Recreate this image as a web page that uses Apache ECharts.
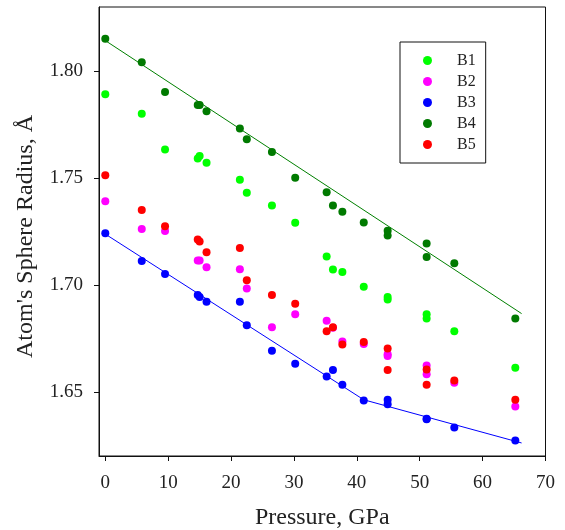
<!DOCTYPE html>
<html>
<head>
<meta charset="utf-8">
<script src="https://cdn.jsdelivr.net/npm/echarts@6/dist/echarts.min.js"></script>
<style>html,body{margin:0;padding:0;background:#fff;}#c{width:565px;height:530px;}</style>
</head>
<body>
<div id="c"></div>
<script>
const pressure = [0, 5.8, 9.5, 14.7, 15.0, 16.1, 21.4, 22.5, 26.5, 30.2, 35.2, 36.2, 37.7, 41.1, 44.9, 44.9, 51.1, 51.1, 55.5, 65.2];
const b1 = [1.7892, 1.7801, 1.7633, 1.7592, 1.7603, 1.7572, 1.7492, 1.7431, 1.7372, 1.7291, 1.7133, 1.7072, 1.7061, 1.6992, 1.6944, 1.6932, 1.6863, 1.6843, 1.6783, 1.6613];
const b2 = [1.7392, 1.7262, 1.7252, 1.7114, 1.7114, 1.7083, 1.7074, 1.6983, 1.6802, 1.6863, 1.6833, 1.6800, 1.6736, 1.6724, 1.6676, 1.6668, 1.6623, 1.6582, 1.6543, 1.6432];
const b3 = [1.7242, 1.7112, 1.7051, 1.6953, 1.6944, 1.6922, 1.6922, 1.6811, 1.6692, 1.6632, 1.6572, 1.6602, 1.6533, 1.6460, 1.6463, 1.6442, 1.6374, 1.6372, 1.6333, 1.6272];
const b4 = [1.8151, 1.8042, 1.7902, 1.7842, 1.7842, 1.7813, 1.7732, 1.7681, 1.7622, 1.7501, 1.7433, 1.7372, 1.7342, 1.7292, 1.7253, 1.7231, 1.7194, 1.7131, 1.7102, 1.6843];
const b5 = [1.7513, 1.7351, 1.7274, 1.7213, 1.7203, 1.7153, 1.7173, 1.7022, 1.6953, 1.6912, 1.6783, 1.6802, 1.6722, 1.6733, 1.6703, 1.6602, 1.6605, 1.6533, 1.6553, 1.6463];
const fitB4X = [0, 66.2];
const fitB4Y = [1.8143, 1.6866];
const fitB3X = [0, 41.1, 66.2];
const fitB3Y = [1.7238, 1.6463, 1.6261];
const xTicks = [0, 10, 20, 30, 40, 50, 60, 70];
const yTicks = [1.65, 1.70, 1.75, 1.80];
const names = ['B1', 'B2', 'B3', 'B4', 'B5'];
const colors = ['#00ff00', '#ff00ff', '#0000ff', '#007a00', '#ff0000'];

const font = 'Liberation Serif';
const zip = (xs, ys) => xs.map((x, i) => [x, ys[i]]);
const vals = [b1, b2, b3, b4, b5];

const series = [
  {type: 'line', data: zip(fitB4X, fitB4Y), symbol: 'none', lineStyle: {color: '#008000', width: 1}, silent: true, z: 1},
  {type: 'line', data: zip(fitB3X, fitB3Y), symbol: 'none', lineStyle: {color: '#0000ff', width: 1}, silent: true, z: 1}
];
names.forEach((n, i) => {
  series.push({name: n, type: 'scatter', data: zip(pressure, vals[i]), symbol: 'circle', symbolSize: 8,
    itemStyle: {color: colors[i], opacity: 1}, z: 2 + i});
});

const chart = echarts.init(document.getElementById('c'));
chart.setOption({
  animation: false,
  backgroundColor: '#fff',
  grid: {left: 99, top: 7, right: 19.5, bottom: 74, outerBoundsMode: 'none', containLabel: false,
    show: true, borderColor: '#111', borderWidth: 1, backgroundColor: 'transparent'},
  legend: {
    data: names, orient: 'vertical', left: 400, top: 42,
    icon: 'circle', itemWidth: 9, itemHeight: 9, itemGap: 4,
    padding: [10, 10, 10, 23],
    borderColor: '#111', borderWidth: 1,
    itemStyle: {opacity: 1},
    textStyle: {fontFamily: font, fontSize: 16, color: '#222', lineHeight: 17, padding: [0, 0, 0, 20]}
  },
  xAxis: {
    type: 'value', min: -1, max: 70,
    name: 'Pressure, GPa', nameLocation: 'middle', nameGap: 50,
    nameTextStyle: {fontFamily: font, fontSize: 24, color: '#222'},
    axisLine: {onZero: false, lineStyle: {color: '#111', width: 1}},
    axisTick: {show: true, inside: false, length: 5, customValues: xTicks, lineStyle: {color: '#111'}},
    axisLabel: {customValues: xTicks, fontFamily: font, fontSize: 19, color: '#222', margin: 18},
    splitLine: {show: false}
  },
  yAxis: {
    type: 'value', min: 1.62, max: 1.83,
    name: "Atom's Sphere Radius, Å", nameLocation: 'middle', nameGap: 61,
    nameTextStyle: {fontFamily: font, fontSize: 24, color: '#222', padding: [0, 10, 0, 0]},
    axisLine: {show: true, onZero: false, lineStyle: {color: '#111', width: 1}},
    axisTick: {show: true, inside: false, length: 5, customValues: yTicks, lineStyle: {color: '#111'}},
    axisLabel: {customValues: yTicks, fontFamily: font, fontSize: 19, color: '#222', margin: 16,
      formatter: v => v.toFixed(2)},
    splitLine: {show: false}
  },
  series: series
});
</script>
</body>
</html>
